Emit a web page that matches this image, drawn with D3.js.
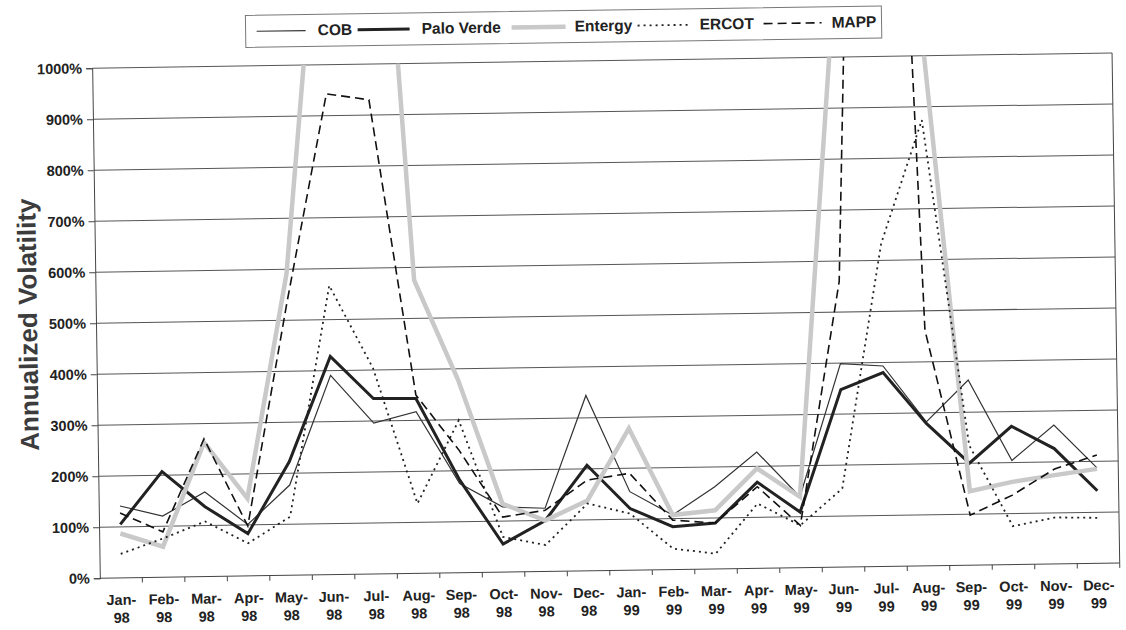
<!DOCTYPE html>
<html lang="en">
<head>
<meta charset="UTF-8">
<script src="https://d3js.org/d3.v7.min.js"></script>
<style>
  body { margin: 0; background: #fff; }
  svg { font-family: "Liberation Sans", Arial, sans-serif; }
</style>
</head>
<body>
<svg id="chart" width="1126" height="630"></svg>
<script>
  // values (percent, annualized volatility)
  var months = ["Jan-98", "Feb-98", "Mar-98", "Apr-98", "May-98", "Jun-98", "Jul-98", "Aug-98",
    "Sep-98", "Oct-98", "Nov-98", "Dec-98", "Jan-99", "Feb-99", "Mar-99", "Apr-99",
    "May-99", "Jun-99", "Jul-99", "Aug-99", "Sep-99", "Oct-99", "Nov-99", "Dec-99"];
  var cob = [141, 120, 166, 101, 177, 391, 296, 317, 175, 128, 124, 344,
    154, 107, 161, 228, 139, 399, 393, 282, 363, 204, 272, 187];
  var paloVerde = [105, 207, 137, 83, 223, 428, 344, 343, 182, 55, 100, 207,
    121, 84, 90, 169, 109, 348, 380, 279, 200, 271, 226, 142];
  var entergy = [87, 60, 263, 152, 592, 1450, 1970, 575, 378, 134, 100, 138,
    278, 107, 115, 196, 139, 1160, 1300, 1070, 145, 162, 174, 185];
  var ercot = [47, 76, 108, 64, 115, 567, 404, 137, 299, 69, 52, 132,
    111, 41, 30, 127, 83, 154, 633, 874, 235, 75, 91, 89];
  var mapp = [127, 89, 270, 98, 535, 943, 930, 350, 240, 108, 120, 178,
    190, 97, 90, 160, 83, 560, 3000, 462, 98, 136, 186, 212];
  var yTicks = [0, 100, 200, 300, 400, 500, 600, 700, 800, 900, 1000];

  var series = [
    { name: "COB", values: cob, color: "#333", width: 1.2, dash: null },
    { name: "Palo Verde", values: paloVerde, color: "#222", width: 3, dash: null },
    { name: "Entergy", values: entergy, color: "#c9c9c9", width: 4.5, dash: null },
    { name: "ERCOT", values: ercot, color: "#222", width: 1.8, dash: "2,4" },
    { name: "MAPP", values: mapp, color: "#111", width: 1.6, dash: "9,5" }
  ];

  var svg = d3.select("#chart");
  // the source is a slightly skewed scan, so tilt the whole drawing a little
  var g = svg.append("g").attr("transform", "rotate(-0.86,610,320)");

  var plotL = 96, plotR = 1116, plotT = 60.5, plotB = 570.5;

  var x = d3.scaleBand().domain(months).range([plotL, plotR]);
  var y = d3.scaleLinear().domain([0, 1000]).range([plotB, plotT]);

  // gridlines
  g.append("g")
    .selectAll("line")
    .data(yTicks.filter(d => d > 0))
    .enter()
    .append("line")
    .attr("x1", plotL).attr("x2", plotR)
    .attr("y1", d => y(d)).attr("y2", d => y(d))
    .attr("stroke", "#555")
    .attr("stroke-width", 1);

  // y axis
  var yAxis = g.append("g")
    .attr("transform", "translate(" + plotL + ",0)")
    .call(d3.axisLeft(y).tickValues(yTicks).tickSize(6).tickFormat(d => d + "%"));
  yAxis.select(".domain").attr("stroke", "#444");
  yAxis.selectAll(".tick line").attr("stroke", "#444");
  yAxis.selectAll("text")
    .attr("x", -10)
    .style("font-size", "14.5px")
    .style("font-weight", "bold")
    .attr("fill", "#222");

  // x axis, ticks at category boundaries
  var xAxis = g.append("g")
    .attr("transform", "translate(0," + plotB + ")");
  xAxis.append("line")
    .attr("x1", plotL).attr("x2", plotR)
    .attr("stroke", "#444");
  xAxis.selectAll(".xt")
    .data(months)
    .enter()
    .append("line")
    .attr("class", "xt")
    .attr("x1", d => x(d) + x.bandwidth()).attr("x2", d => x(d) + x.bandwidth())
    .attr("y1", 0).attr("y2", 5)
    .attr("stroke", "#444");
  var xl = xAxis.selectAll(".xl")
    .data(months)
    .enter()
    .append("text")
    .attr("class", "xl")
    .attr("text-anchor", "middle")
    .attr("fill", "#222")
    .style("font-size", "14.5px")
    .style("font-weight", "bold");
  xl.append("tspan")
    .attr("x", d => x(d) + x.bandwidth() / 2)
    .attr("y", 27)
    .text(d => d.split("-")[0] + "-");
  xl.append("tspan")
    .attr("x", d => x(d) + x.bandwidth() / 2)
    .attr("y", 45)
    .text(d => d.split("-")[1]);

  // right border of plot area
  g.append("line")
    .attr("x1", plotR).attr("x2", plotR)
    .attr("y1", plotT).attr("y2", plotB)
    .attr("stroke", "#444");

  // y title
  g.append("text")
    .attr("transform", "translate(37,316) rotate(-90)")
    .attr("text-anchor", "middle")
    .attr("fill", "#3c3c3c")
    .style("font-size", "26px")
    .style("font-weight", "bold")
    .text("Annualized Volatility");

  // lines, clipped to plot area
  g.append("clipPath").attr("id", "plotclip")
    .append("rect")
    .attr("x", plotL).attr("y", plotT)
    .attr("width", plotR - plotL).attr("height", plotB - plotT);

  var line = d3.line()
    .x((d, i) => x(months[i]) + x.bandwidth() / 2)
    .y(d => y(d));

  g.append("g")
    .attr("clip-path", "url(#plotclip)")
    .selectAll("path")
    .data(series)
    .enter()
    .append("path")
    .attr("d", d => line(d.values))
    .attr("fill", "none")
    .attr("stroke", d => d.color)
    .attr("stroke-width", d => d.width)
    .attr("stroke-dasharray", d => d.dash)
    .attr("stroke-linejoin", "miter");

  // legend
  var legendPos = [
    { line: [261, 310], text: 322 },
    { line: [362, 414], text: 426 },
    { line: [516, 570], text: 579 },
    { line: [642, 692], text: 704 },
    { line: [768, 826], text: 836 }
  ];
  var legend = g.append("g");
  legend.append("rect")
    .attr("x", 250).attr("y", 10)
    .attr("width", 636).attr("height", 32)
    .attr("fill", "#fff")
    .attr("stroke", "#777")
    .attr("stroke-width", 1);
  var items = legend.selectAll(".item")
    .data(series)
    .enter()
    .append("g")
    .attr("class", "item");
  items.append("line")
    .attr("x1", (d, i) => legendPos[i].line[0])
    .attr("x2", (d, i) => legendPos[i].line[1])
    .attr("y1", 26).attr("y2", 26)
    .attr("stroke", d => d.color)
    .attr("stroke-width", d => d.width)
    .attr("stroke-dasharray", d => d.dash);
  items.append("text")
    .attr("x", (d, i) => legendPos[i].text)
    .attr("y", 31)
    .attr("fill", "#222")
    .style("font-size", "15.5px")
    .style("font-weight", "bold")
    .text(d => d.name);
</script>
</body>
</html>
